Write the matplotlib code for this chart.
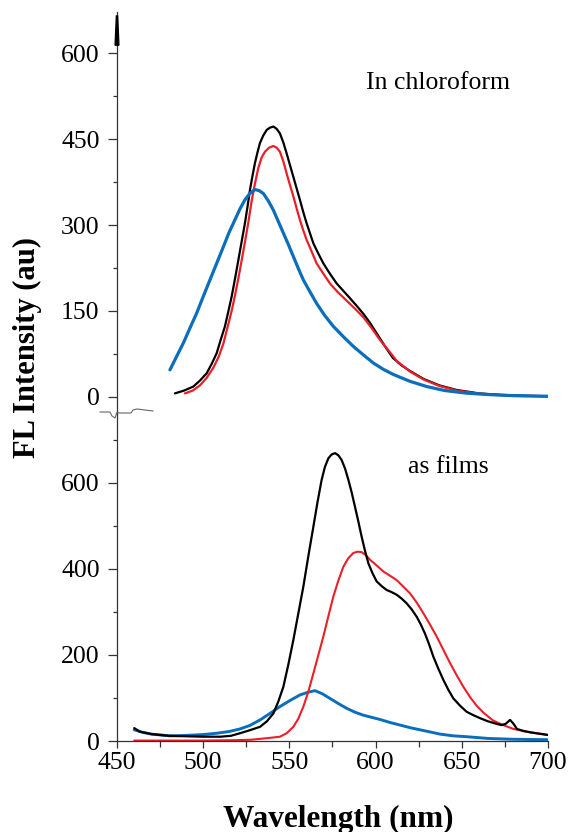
import matplotlib
matplotlib.use('Agg')
from matplotlib import pyplot as plt
from matplotlib.lines import Line2D
import numpy as np

plt.rcParams['font.family'] = ['Liberation Serif', 'DejaVu Serif']

# --- in chloroform (top panel) ---
sol_black_wl = [483.6, 489, 494.3, 498, 502, 505, 507.8, 510, 512.6, 514.5, 516.5, 518.5, 520.4, 522.3, 524.2, 525.7,
                527.1, 528.6, 530, 531.5, 532.9, 534.8, 536.8, 538.7, 540.7, 542.6, 544.5, 546.5, 548.4, 550.3,
                552.3, 554.2, 556.1, 558, 560, 562, 563.9, 566.8, 569.7, 573.5, 577.4, 581.3, 585.2, 589, 592.9,
                596.8, 600.6, 605.5, 610, 615, 620, 628, 637, 647, 660, 672, 685, 700]
sol_black = [6, 11, 18, 28, 41, 58, 76, 98, 123, 148, 175, 207, 239, 271, 303, 332,
             361, 386, 408, 427, 443, 456, 466, 470, 472, 468, 460, 444, 425, 405,
             384, 364, 344, 323, 303, 285, 268, 250, 233, 215, 198, 185, 172, 159, 145,
             129, 111, 88, 68, 55, 45, 31, 20, 12, 6, 3.5, 2, 1]

sol_red_wl = [489.4, 494, 498.1, 502, 505.9, 509, 511.7, 514, 516.5, 518.5, 520.4, 522.3, 524.2, 526.2, 528.1, 530,
              532, 533.9, 535.8, 538.2, 540.7, 542.6, 544.5, 546.5, 548.4, 550.3, 552.3, 554.2, 556.1, 558, 560,
              563, 565.8, 569.7, 573.5, 578, 583.2, 588, 592.9, 597.7, 602.6, 607.5, 612.2, 620, 628, 637, 647,
              660, 672, 685, 700]
sol_red = [6, 11, 20, 33, 51, 70, 93, 120, 150, 178, 207, 238, 270, 305, 342, 372,
           400, 418, 428, 435, 438, 435, 428, 411, 390, 370, 350, 329, 309, 291, 274,
           253, 233, 215, 198, 183, 168, 154, 139, 120, 99, 81, 63, 44, 30, 19, 11,
           5.5, 3, 1.5, 1]

sol_blue_wl = [480.7, 484.5, 488.5, 492.3, 496.2, 500, 503.9, 507.8, 511.7, 515, 518.4, 521.3, 524.2, 527, 530,
               532.5, 534.9, 537.8, 540.7, 543.6, 546.5, 549.4, 552.3, 555.2, 558.1, 562, 565.8, 570.5, 575.5,
               581.3, 587.1, 593, 598.7, 604.5, 610.3, 620, 629.6, 640, 652.8, 665, 680, 700]
sol_blue = [47, 70, 94, 120, 146, 175, 204, 233, 262, 287, 309, 328, 344, 355, 362,
            360, 355, 342, 326, 306, 286, 266, 245, 224, 204, 183, 163, 142, 123,
            105, 88, 73, 59, 48, 39, 27, 18, 11, 6.4, 4, 2, 1]

# --- as films (bottom panel) ---
film_black_wl = [460, 463, 470, 480, 490, 500, 510, 516, 521.3, 527, 533, 537, 540.7, 543.6, 546.5, 549.4, 552.3,
                 555.2, 558.1, 561, 563.9, 566.3, 568.7, 570.6, 572.6, 574.5, 576.5, 578.4, 580.3, 582.3, 584.2,
                 586.1, 588, 590, 591.9, 593.8, 595.8, 598.2, 600.6, 603.5, 606.4, 609.3, 612.2, 615.1, 618,
                 620.9, 623.8, 626.2, 628.6, 631, 633.5, 636.4, 639.3, 642.2, 645.1, 649, 652.8, 656.7, 660.6,
                 665, 670, 673, 675.5, 678, 680, 682, 686, 690, 695, 700]
film_black = [30, 22, 16, 12, 11, 10, 10, 12, 18, 25, 33, 46, 64, 92, 126, 178, 235,
              297, 359, 430, 498, 555, 607, 637, 657, 666, 669, 664, 653, 633, 607,
              578, 545, 510, 475, 443, 413, 390, 371, 360, 351, 346, 340, 331, 320,
              306, 289, 271, 250, 225, 196, 168, 142, 119, 99, 82, 68, 60, 53,
              46, 40, 37, 40, 49, 40, 28, 23, 20, 17, 14]

film_red_wl = [460, 480, 500, 520, 528, 533, 538, 544.5, 548.4, 552.3, 555.2, 558.1, 561, 563.9, 566.8, 569.7,
               572.6, 575.5, 578.4, 581.3, 584.2, 587.1, 589.5, 591.9, 594.3, 596.8, 600.6, 604.5, 608.4, 612.2,
               616, 620, 623.8, 627.7, 631.5, 635.4, 639.3, 643.2, 647, 650.9, 654.8, 658.6, 662.5, 668, 674,
               680, 690, 700]
film_red = [1, 1, 1, 2, 3, 5, 7, 10, 18, 33, 52, 80, 115, 157, 200, 243,
            290, 336, 373, 405, 425, 437, 440, 439, 432, 421, 408, 394, 384, 374,
            359, 343, 322, 297, 271, 243, 212, 181, 153, 126, 102, 82, 66, 48, 37,
            28, 20, 14]

film_blue_wl = [460, 465, 470, 480.7, 490, 500, 507.8, 515, 521.3, 527, 533, 538.7, 544.5, 550.3, 556.1, 560.5,
                564.8, 569, 573.5, 578.4, 583.2, 588, 592.9, 597.7, 602.6, 608.4, 614.2, 620, 625.8, 631.6, 637.4,
                645, 652.8, 665, 680, 700]
film_blue = [26, 20, 16, 12, 13, 15, 18, 22, 28, 36, 49, 64, 80, 94, 107, 113,
             117, 110, 99, 87, 76, 67, 60, 55, 50, 43, 37, 31, 26, 21, 16,
             12, 10, 6, 4, 3]

BLACK, RED, BLUE = '#000000', '#EC1E28', '#0A6EBD'
SPINE = '#333333'
W, H = 570, 832

fig = plt.figure(figsize=(W / 100, H / 100), dpi=100)

left, right = 117 / W, 548 / W
y_split = 414   # pixel row where the two panels meet
ax_top = fig.add_axes([left, 1 - y_split / H, right - left, (y_split - 12) / H])
ax_bot = fig.add_axes([left, 1 - 741 / H, right - left, (741 - y_split) / H])

line_kw = dict(solid_joinstyle='round', solid_capstyle='round')

# top panel
ax_top.plot(sol_black_wl, sol_black, color=BLACK, lw=1.6, **line_kw)
ax_top.plot(sol_red_wl, sol_red, color=RED, lw=1.6, **line_kw)
ax_top.plot(sol_blue_wl, sol_blue, color=BLUE, lw=2.3, **line_kw)
ax_top.set_xlim(450, 700)
ax_top.set_ylim(-30, 672)
ax_top.set_yticks(np.arange(0, 601, 150))
ax_top.set_yticks(np.arange(75, 600, 150), minor=True)
ax_top.set_xticks([])
ax_top.text(636, 548, 'In chloroform', fontsize=18.5, ha='center', va='center')
# arrow-like wedge on top of the axis
ax_top.fill([448.9, 451.1, 450.35, 449.65], [614, 614, 665, 665], color='black', clip_on=False, zorder=5)

# bottom panel
ax_bot.plot(film_blue_wl, film_blue, color=BLUE, lw=2.1, **line_kw)
ax_bot.plot(film_red_wl, film_red, color=RED, lw=1.5, **line_kw)
ax_bot.plot(film_black_wl, film_black, color=BLACK, lw=1.6, **line_kw)
ax_bot.set_xlim(450, 700)
ax_bot.set_ylim(0, 760)
ax_bot.set_yticks(np.arange(0, 601, 200))
ax_bot.set_yticks(np.arange(100, 701, 200), minor=True)
ax_bot.set_xticks(np.arange(450, 701, 50))
ax_bot.set_xticks(np.arange(475, 700, 50), minor=True)
ax_bot.text(642, 636, 'as films', fontsize=18.5, ha='center', va='center')

for ax in (ax_top, ax_bot):
    ax.patch.set_visible(False)
    for s in ['top', 'right']:
        ax.spines[s].set_visible(False)
    ax.spines['left'].set_color(SPINE)
    ax.spines['left'].set_linewidth(0.9)
    ax.tick_params(axis='y', which='major', direction='out', length=6.5, width=0.9, color=SPINE,
                   pad=6, labelsize=18.5)
    ax.tick_params(axis='y', which='minor', direction='out', length=3, width=0.9, color=SPINE)
ax_top.spines['bottom'].set_visible(False)
ax_bot.spines['bottom'].set_color(SPINE)
ax_bot.spines['bottom'].set_linewidth(0.9)
ax_bot.tick_params(axis='x', which='major', direction='out', length=5, width=0.9, color=SPINE,
                   pad=3, labelsize=18.5)
ax_bot.tick_params(axis='x', which='minor', direction='out', length=4, width=0.9, color=SPINE)

# axis break mark
bx = [100, 110, 112, 115, 117, 119, 131, 133, 137, 153]
by = [412, 412, 416, 418, 412, 413, 413, 410, 409, 411]
fig.add_artist(Line2D([x / W for x in bx], [1 - y / H for y in by], color='#666666', lw=0.8,
                      transform=fig.transFigure))

fig.text(338 / W, 1 - 819 / H, 'Wavelength (nm)', fontsize=22.5, fontweight='bold', ha='center', va='center')
fig.text(27 / W, 1 - 347 / H, 'FL Intensity (au)', fontsize=22, fontweight='bold', ha='center', va='center',
         rotation=90)

fig.savefig('out.png', dpi=100)
